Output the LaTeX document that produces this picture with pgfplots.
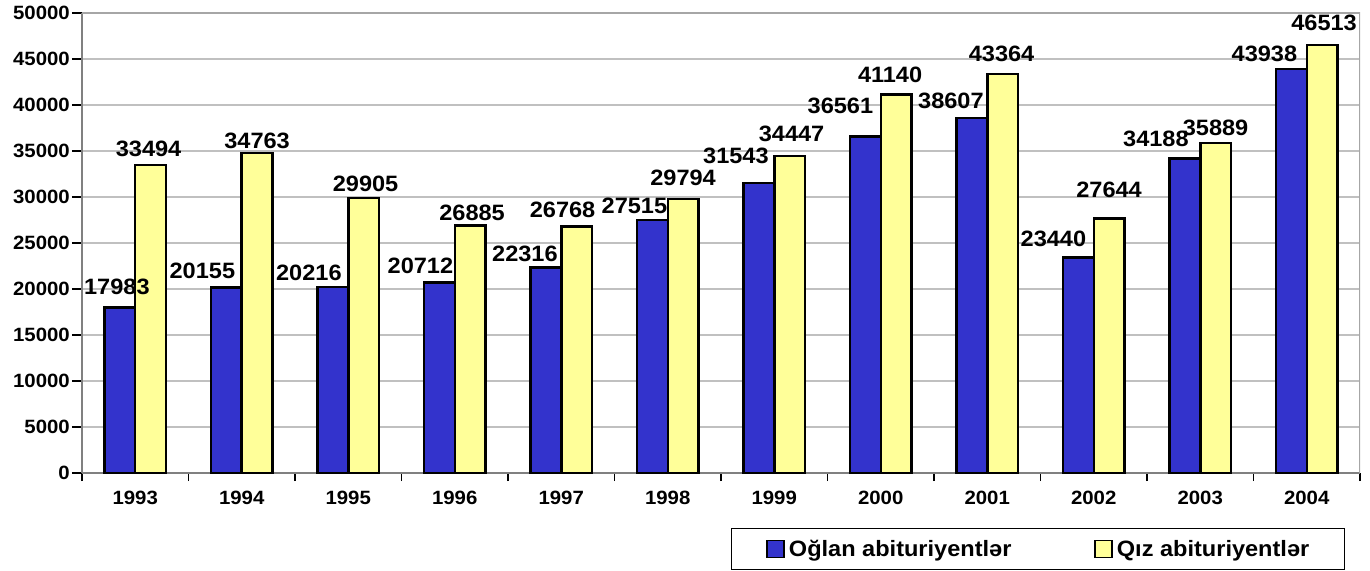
\documentclass[border=0pt]{standalone}
\usepackage{fontspec}
\setmainfont{Liberation Sans}[FakeStretch=1.06]
\usepackage{pgfplots}
\usepackage{pgfplotstable}
\pgfplotsset{compat=1.18}

\definecolor{cblue}{HTML}{3333CC}
\definecolor{cyellow}{HTML}{FFFF99}
\definecolor{cgrid}{HTML}{C0C0C0}
\definecolor{caxis}{HTML}{808080}

% x = category index, y = value, dx/dy = label offset (bp)
\pgfplotstableread{
x y dx dy
0 17983 -3 11.6
1 20155 -24 8
2 20216 -24 5
3 20712 -19 7.5
4 22316 -21 5
5 27515 -18 5
6 31543 -23 18
7 36561 -25 22
8 38607 -21 7.7
9 23440 -25 9
10 34188 -29 10
11 43938 -27 5.5
}\oglan

\pgfplotstableread{
x y dx dy
0 33494 -2 6.5
1 34763 0 3
2 29905 2 5
3 26885 2 4
4 26768 -14 7.7
5 29794 0 12
6 34447 2 13
7 41140 -6 11
8 43364 -1 11
9 27644 0 20
10 35889 0 6
11 46513 2 13
}\qiz

\pgfplotsset{
  barlabels/.style={
    nodes near coords,
    nodes near coords style={font=\fontsize{22.3}{24}\selectfont\bfseries, inner sep=0pt, anchor=south},
    visualization depends on={\thisrow{dx} \as \dx},
    visualization depends on={\thisrow{dy} \as \dy},
    every node near coord/.append style={xshift=\dx bp, yshift=\dy bp},
  },
}

\begin{document}
\begin{tikzpicture}
  \begin{axis}[
      at={(0,0)}, anchor=south west,
      scale only axis,
      width=1278bp, height=460bp,
      ybar=0pt, bar width=30.7bp,
      xmin=-0.5, xmax=11.5,
      ymin=0, ymax=50000,
      xtick={0,...,11},
      xticklabels={1993,1994,1995,1996,1997,1998,1999,2000,2001,2002,2003,2004},
      minor xtick={-0.5,0.5,...,11.5},
      ytick={0,5000,...,50000},
      scaled y ticks=false,
      /pgf/number format/1000 sep={},
      /pgf/number format/assume math mode=true,
      axis x line*=bottom, axis y line*=left,
      axis line style={draw=caxis, line width=2bp},
      tick align=outside,
      major tick length=10bp, minor tick length=8bp,
      major x tick style={draw=none},
      minor x tick style={black, line width=1.5bp},
      major y tick style={black, line width=1.5bp},
      ymajorgrids,
      grid style={cgrid, line width=1.5bp},
      ticklabel style={font=\fontsize{19.3}{21}\selectfont\bfseries},
      yticklabel style={inner sep=0pt, xshift=-2bp},
      xticklabel style={inner sep=0pt, yshift=-8bp},
      legend columns=2,
      legend image code/.code={\draw[#1, line width=1.5bp] (0bp,-8bp) rectangle (17bp,9bp);},
      legend style={
        at={(0.9883,-0.2109)}, anchor=south east,
        draw=black, line width=1.5bp,
        inner xsep=35bp, inner ysep=11bp,
        font=\fontsize{22.3}{24}\selectfont\bfseries,
        nodes={inner sep=0pt},
        /tikz/column sep=4bp,
        /tikz/every even column/.append style={column sep=83bp},
      },
      legend cell align=left,
    ]
    \addplot[draw=black, line width=2.5bp, fill=cblue, barlabels] table[x=x, y=y] {\oglan};
    \addlegendentry{Oğlan abituriyentlər}
    \addplot[draw=black, line width=2.5bp, fill=cyellow, barlabels] table[x=x, y=y] {\qiz};
    \addlegendentry{Qız abituriyentlər}
    \draw[color=caxis!70, line width=1.5bp] (rel axis cs:0,1) -- (rel axis cs:1,1) -- (rel axis cs:1,0);
  \end{axis}
  \pgfresetboundingbox
  \path[use as bounding box] (-82bp,-98bp) rectangle (1288bp,473bp);
\end{tikzpicture}
\end{document}
